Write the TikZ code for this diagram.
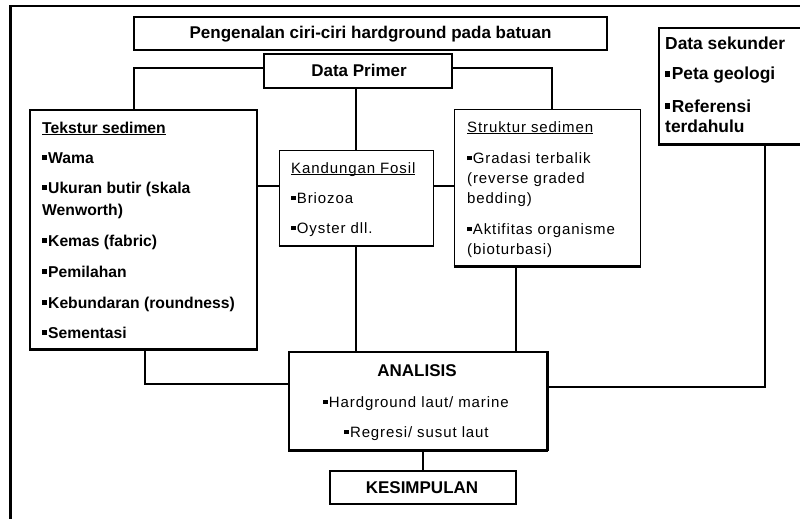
\documentclass[tikz,border=0pt]{standalone}
\usepackage{fontspec}
\setmainfont{Liberation Sans}
\newfontfamily\regf[LetterSpace=6]{Liberation Sans}
\newcommand\bul{\rule[0.2em]{0.3em}{0.3em}\hspace{0.08em}}
\newcommand\myul[1]{\setbox0=\hbox{#1}\rlap{\rule[-2pt]{\wd0}{1pt}}\box0}
\begin{document}
\begin{tikzpicture}[x=1pt,y=-1pt,
  box/.style={draw,line width=1.6pt,inner sep=0pt,fill=white},
  thinbox/.style={draw,line width=1pt,inner sep=0pt,fill=white},
  conn/.style={line width=2pt},
  bt/.style={inner sep=0pt,anchor=base west,font=\fontsize{15.7}{18}\selectfont\bfseries},
  bs/.style={inner sep=0pt,anchor=base west,font=\fontsize{17.4}{19}\selectfont\bfseries},
  rt/.style={inner sep=0pt,anchor=base west,font=\fontsize{15}{17}\regf},
  rc/.style={inner sep=0pt,anchor=base,font=\fontsize{15}{17}\regf},
  hd/.style={inner sep=0pt,anchor=base,font=\fontsize{17}{19}\selectfont\bfseries}]
\useasboundingbox (0,0) rectangle (800,519);
\clip (0,0) rectangle (800,519);
\fill[white] (0,0) rectangle (800,519);
% outer frame
\draw[line width=2.5pt] (10.5,6.2) rectangle (815,535);

% boxes
\node[box,minimum width=473pt,minimum height=33pt] (title) at (370.5,33.5) {};
\node[box,line width=2.2pt,minimum width=188pt,minimum height=34pt] (primer) at (358,71) {};
\node[box,minimum width=227pt,minimum height=239pt] (tekstur) at (143.5,229.5) {};
\node[thinbox,minimum width=154pt,minimum height=95pt] (fosil) at (356,197.5) {};
\node[thinbox,minimum width=186pt,minimum height=157pt] (struktur) at (547,187.5) {};
\node[box,minimum width=151pt,minimum height=116pt] (sekunder) at (734.5,86) {};
\node[thinbox,line width=1.3pt,minimum width=258pt,minimum height=98pt] (analisis) at (418,401) {};
\node[box,line width=2.2pt,minimum width=186pt,minimum height=33pt] (kesimpulan) at (423,487.5) {};

% connectors
\draw[conn] ([yshift=3pt]primer.west) -| ([xshift=-9.5pt]tekstur.north);
\draw[conn] ([yshift=3pt]primer.east) -| ([xshift=5pt]struktur.north);
\draw[conn] (fosil.north |- primer.south) -- (fosil.north);
\draw[conn] ([yshift=11.5pt]fosil.west) -- ([yshift=11.5pt]fosil.west -| tekstur.east);
\draw[conn] ([yshift=11.5pt]fosil.east) -- ([yshift=11.5pt]fosil.east -| struktur.west);
\draw[conn,line width=2.5pt] (fosil.south) -- (fosil.south |- analisis.north);
\draw[conn,line width=2.5pt] ([xshift=-31pt]struktur.south) -- ([xshift=-31pt]struktur.south |- analisis.north);
\draw[conn] ([xshift=1.5pt]tekstur.south) |- ([yshift=17pt]analisis.west);
\draw[conn] ([yshift=14pt]analisis.east) -| ([xshift=30.5pt]sekunder.south);
\draw[conn] (kesimpulan.north |- analisis.south) -- (kesimpulan.north);

% heavier bottom edges
\draw[line width=3pt] (tekstur.south west) -- (tekstur.south east);
\draw[line width=2pt] (fosil.south west) -- (fosil.south east);
\draw[line width=3.2pt] (struktur.south west) -- (struktur.south east);
\draw[line width=3.2pt] (sekunder.south west) -- (sekunder.south east);
\draw[line width=3.2pt] (analisis.south west) -- (analisis.south east);
\draw[line width=2pt] (analisis.north east) -- (analisis.south east);

% texts
\node[hd] (titletext) at (370.5,38) {Pengenalan ciri-ciri hardground pada batuan};
\node[hd] (primertext) at (359,76) {Data Primer};

\node[bt] (tk0) at (42,133) {\myul{Tekstur sedimen}};
\node[bt] (tk1) at (42,163) {\bul Wama};
\node[bt] (tk2) at (42,193) {\bul Ukuran butir (skala};
\node[bt] (tk3) at (42,215) {Wenworth)};
\node[bt] (tk4) at (42,246) {\bul Kemas (fabric)};
\node[bt] (tk5) at (42,277) {\bul Pemilahan};
\node[bt] (tk6) at (42,308) {\bul Kebundaran (roundness)};
\node[bt] (tk7) at (42,338) {\bul Sementasi};

\node[rt] (fs0) at (291,173) {\myul{Kandungan Fosil}};
\node[rt] (fs1) at (291,203) {\bul Briozoa};
\node[rt] (fs2) at (291,233) {\bul Oyster dll.};

\node[rt] (st0) at (467,132) {\myul{Struktur sedimen}};
\node[rt] (st1) at (467,163) {\bul Gradasi terbalik};
\node[rt] (st2) at (467,183) {(reverse graded};
\node[rt] (st3) at (467,203) {bedding)};
\node[rt] (st4) at (467,234) {\bul Aktifitas organisme};
\node[rt] (st5) at (467,254) {(bioturbasi)};

\node[bs] (sk0) at (665,49) {Data sekunder};
\node[bs] (sk1) at (665,80) {\bul Peta geologi};
\node[bs] (sk2) at (665,112) {\bul Referensi};
\node[bs] (sk3) at (665,132) {terdahulu};

\node[hd] (an0) at (417,376) {ANALISIS};
\node[rc] (an1) at (416,407) {\bul Hardground laut/ marine};
\node[rc] (an2) at (416.5,437) {\bul Regresi/ susut laut};

\node[hd] (kstext) at (422,493) {KESIMPULAN};
\end{tikzpicture}
\end{document}
